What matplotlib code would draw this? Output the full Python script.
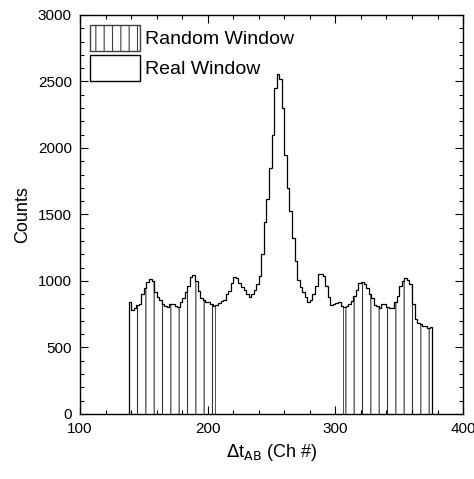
import numpy as np
import matplotlib
matplotlib.use("Agg")
import matplotlib.pyplot as plt
from matplotlib.patches import Patch

plt.rcParams['font.family'] = ['Liberation Sans', 'DejaVu Sans']
plt.rcParams['hatch.linewidth'] = 0.8

# channel bins (2 channels wide) and counts
bin_start = 138
bin_width = 2
counts = [
    840, 785, 800, 820, 830, 900, 950, 990, 1012, 998,
    920, 880, 855, 825, 810, 805, 825, 830, 815, 805,
    840, 870, 915, 965, 1030, 1045, 1000, 925, 870, 855,
    845, 840, 830, 810, 820, 835, 850, 860, 900, 925,
    985, 1030, 1020, 985, 955, 930, 900, 880, 905, 930,
    975, 1035, 1200, 1440, 1620, 1850, 2100, 2450, 2560, 2520,
    2300, 1950, 1700, 1530, 1320, 1150, 1010, 955, 920, 880,
    845, 860, 905, 960, 1055, 1050, 1040, 960, 880, 820,
    830, 835, 845, 815, 805, 810, 830, 850, 890, 935,
    985, 995, 975, 950, 905, 870, 820, 810, 795, 830,
    825, 805, 800, 795, 840, 890, 960, 1000, 1020, 1005,
    975, 830, 715, 685, 680, 665, 660, 645, 655,
]
random_windows = [(138, 206), (306, 376)]

counts = np.array(counts, dtype=float)
edges = bin_start + bin_width * np.arange(len(counts) + 1)

fig = plt.figure(figsize=(4.74, 4.79), dpi=100)
ax = fig.add_axes([0.169, 0.1357, 0.808, 0.833])

for lo, hi in random_windows:
    i0 = int((lo - bin_start) // bin_width)
    i1 = int((hi - bin_start) // bin_width)
    xs = edges[i0:i1 + 1]
    ys = np.append(counts[i0:i1], counts[i1 - 1])
    ax.fill_between(xs, ys, step='post', facecolor='white',
                    edgecolor='0.2', hatch='||', linewidth=0.6)

ax.stairs(counts, edges, color='black', linewidth=0.9)

ax.set_xlim(100, 400)
ax.set_ylim(0, 3000)
ax.set_xticks([100, 200, 300, 400])
ax.set_xticks(np.arange(100, 401, 20), minor=True)
ax.set_yticks(np.arange(0, 3001, 500))
ax.set_yticks(np.arange(0, 3001, 100), minor=True)
ax.tick_params(which='both', direction='in', top=True, right=True,
               labelsize=11, width=0.8)
ax.tick_params(which='major', length=6)
ax.tick_params(which='minor', length=3)
ax.tick_params(axis='x', pad=6)
ax.tick_params(axis='y', pad=6)
for s in ax.spines.values():
    s.set_linewidth(1.0)

ax.set_ylabel('Counts', fontsize=13, labelpad=5)
ax.set_xlabel(r'$\Delta$t$_{\rm AB}$ (Ch #)', fontsize=13, labelpad=4)

handles = [
    Patch(facecolor='white', edgecolor='0.25', hatch='||', linewidth=1.0),
    Patch(facecolor='white', edgecolor='black', linewidth=1.0),
]
ax.legend(handles, ['Random Window', 'Real Window'], loc='upper left',
          frameon=False, fontsize=14, handlelength=2.6, handleheight=1.7,
          handletextpad=0.25, labelspacing=0.2, borderaxespad=0.3,
          borderpad=0.2)

fig.savefig('out.png', dpi=100)
